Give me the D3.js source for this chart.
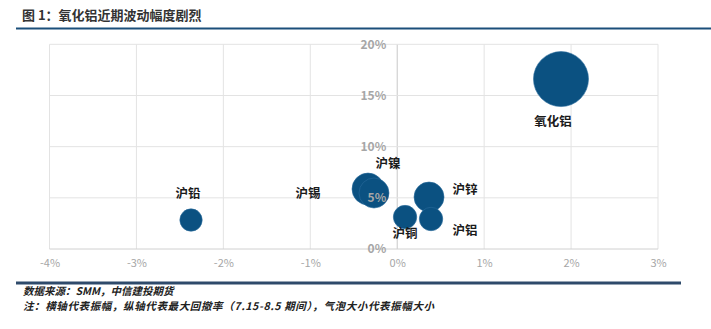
<!DOCTYPE html>
<html><head><meta charset="utf-8">
<script src="https://cdn.jsdelivr.net/npm/d3@7/dist/d3.min.js"></script>
<style>
body{margin:0;background:#fff;}
text{font-family:"Noto Sans CJK SC","Noto Sans",sans-serif;}
</style></head>
<body><svg id="c" width="711" height="329"></svg>
<script>
// ---- data ----
const names = ["氧化铝","沪锡","沪镍","沪锌","沪铝","沪铜","沪铅"];
const xVals = [1.884, -0.336, -0.267, 0.366, 0.389, 0.09, -2.372];   // 振幅 %
const yVals = [16.6, 5.86, 5.47, 5.08, 2.93, 3.12, 2.83];             // 最大回撤率 %
const sizes = [7.56, 2.56, 2.25, 2.25, 1.37, 1.37, 1.25];             // 气泡大小
const xTicks = [-4,-3,-2,-1,0,1,2,3];
const yTicks = [0,5,10,15,20];
const title = "图 1：氧化铝近期波动幅度剧烈";
const source = "数据来源：SMM，中信建投期货";
const note = "注：横轴代表振幅，纵轴代表最大回撤率（7.15-8.5 期间），气泡大小代表振幅大小";
// label offsets (layout)
const labelOffsets = [[-8,41],[-60,3],[14,-31],[36,-9],[34,10],[0,15],[-3,-28]];

const svg = d3.select("#c");
const x = d3.scaleLinear().domain([-4,3]).range([49.5,658]);
const y = d3.scaleLinear().domain([0,20]).range([249,44.3]);
const r = d3.scaleSqrt().domain([0,7.56]).range([0,27.5]);

// title
svg.append("text").attr("x",22).attr("y",20).attr("font-size",13).attr("font-weight","bold")
  .attr("fill","#333").text(title);
svg.append("line").attr("x1",16).attr("x2",711).attr("y1",28.5).attr("y2",28.5)
  .attr("stroke","#1b4f7a").attr("stroke-width",2.2);

// grid
const g = svg.append("g");
g.selectAll(".vg").data(xTicks).join("line")
  .attr("x1",d=>x(d)).attr("x2",d=>x(d)).attr("y1",y(20)).attr("y2",y(0))
  .attr("stroke",d=>d===0?"#c8c8c8":"#e3e3e3").attr("stroke-width",1);
g.selectAll(".hg").data(yTicks).join("line")
  .attr("x1",x(-4)).attr("x2",x(3)).attr("y1",d=>y(d)).attr("y2",d=>y(d))
  .attr("stroke",d=>d===0?"#d0d0d0":"#e3e3e3").attr("stroke-width",1);

// x axis labels
const xAxis = d3.axisBottom(x).tickValues(xTicks).tickSize(0).tickPadding(10).tickFormat(d=>d+"%");
const xa = svg.append("g").attr("transform",`translate(0,${y(0)})`).call(xAxis);
xa.select(".domain").remove();
xa.selectAll("text").attr("font-size",11).attr("fill","#a6a6a6")
  .attr("font-family","'Noto Sans CJK SC',sans-serif");

// bubbles
const idx = d3.range(names.length);
svg.append("g").selectAll("circle").data(idx).join("circle")
  .attr("cx",i=>x(xVals[i])).attr("cy",i=>y(yVals[i])).attr("r",i=>r(sizes[i]))
  .attr("fill","#0b5181").attr("stroke","#2a6c9c").attr("stroke-width",0.6);

// y axis labels (above bubbles)
const yAxis = d3.axisLeft(y).tickValues(yTicks).tickSize(0).tickPadding(11).tickFormat(d=>d+"%");
const ya = svg.append("g").attr("transform",`translate(${x(0)},0)`).call(yAxis);
ya.select(".domain").remove();
ya.selectAll("text").attr("font-size",12).attr("font-weight","bold").attr("fill","#a6a6a6")
  .attr("font-family","'Noto Sans CJK SC',sans-serif");

// data labels
svg.append("g").selectAll("text").data(idx).join("text")
  .attr("x",i=>x(xVals[i])+labelOffsets[i][0]).attr("y",i=>y(yVals[i])+labelOffsets[i][1])
  .attr("text-anchor","middle").attr("dominant-baseline","central")
  .attr("font-size",12.5).attr("font-weight","bold").attr("fill","#1a1a1a")
  .text(i=>names[i]);

// footer
svg.append("line").attr("x1",16).attr("x2",681).attr("y1",283).attr("y2",283)
  .attr("stroke","#2e4a6b").attr("stroke-width",3);
svg.append("text").attr("x",23).attr("y",295).attr("font-size",10.5).attr("font-weight","bold")
  .attr("font-style","italic").attr("fill","#222").text(source);
svg.append("text").attr("x",23).attr("y",309.5).attr("font-size",10.5).attr("font-weight","bold")
  .attr("font-style","italic").attr("fill","#222").attr("textLength",411).text(note);
</script></body></html>
